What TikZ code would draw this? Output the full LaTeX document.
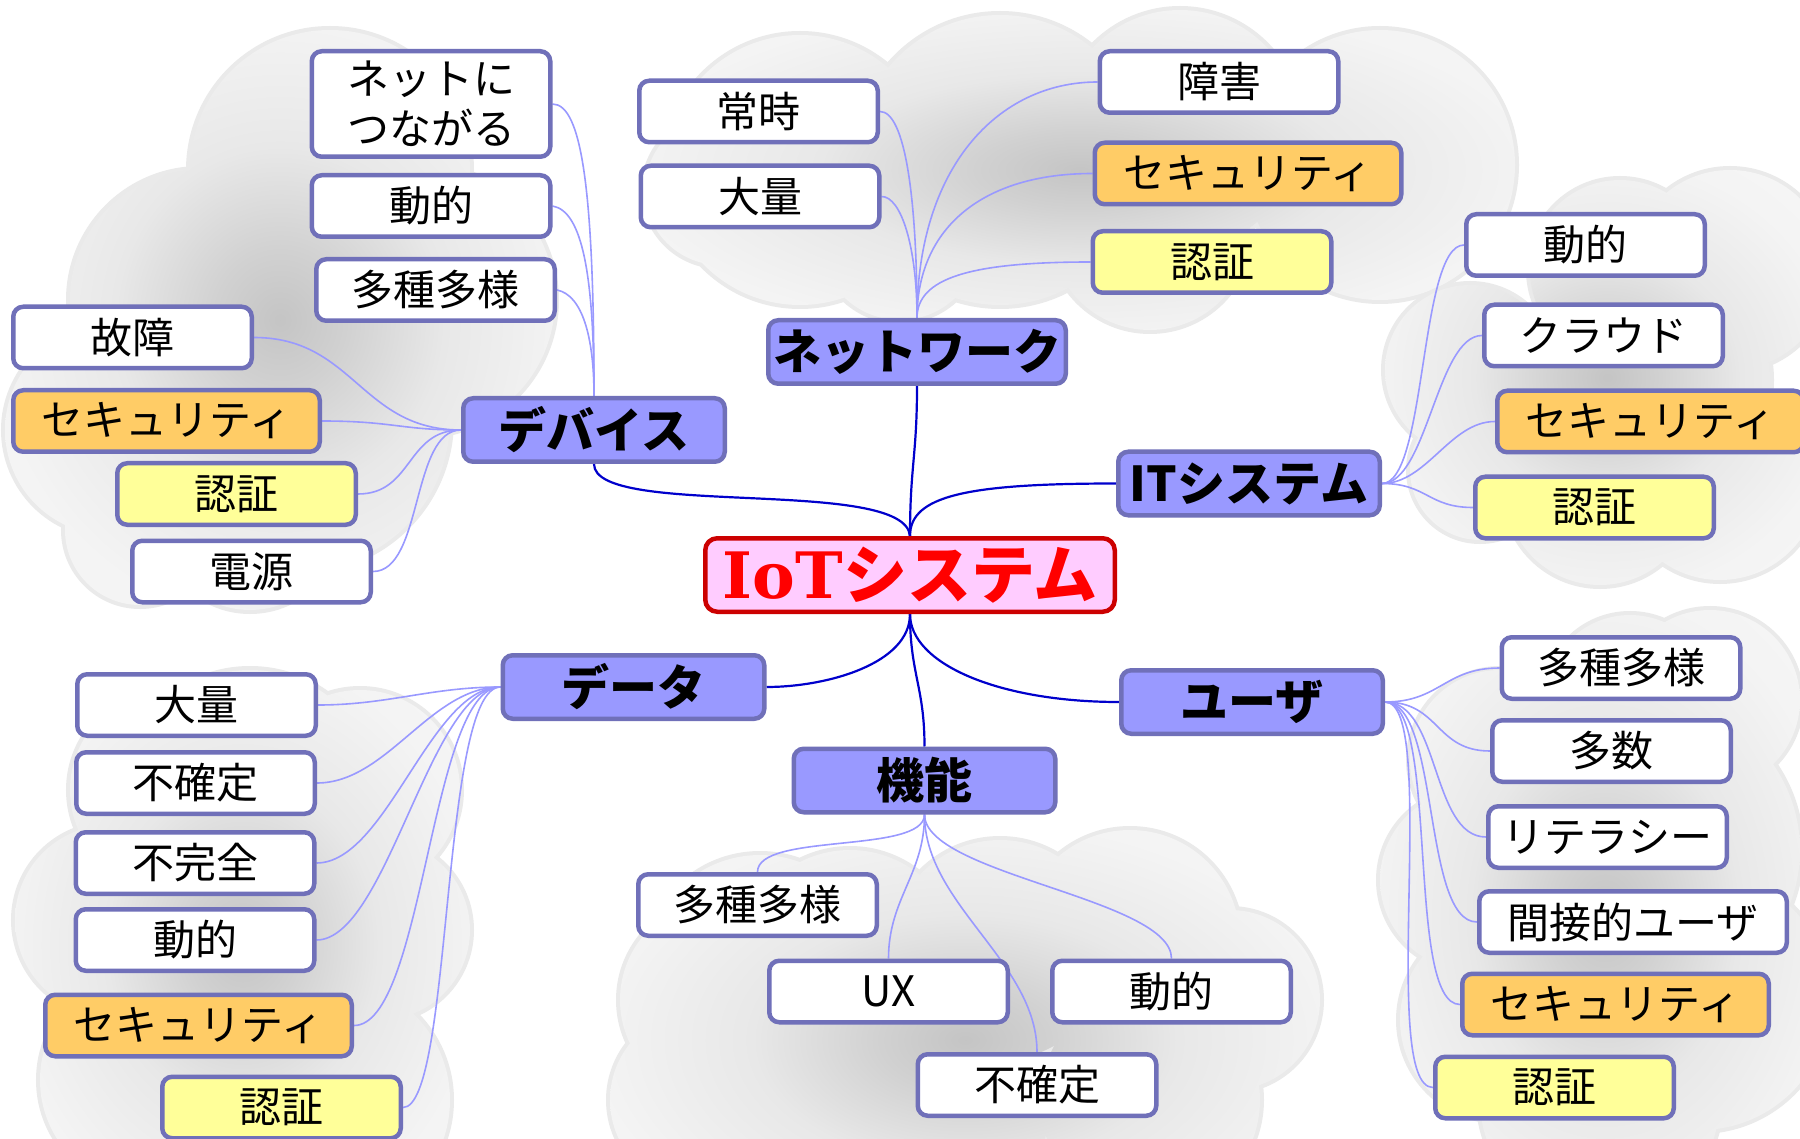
\documentclass[tikz,border=0pt]{standalone}
\usepackage{fontspec}
\newfontfamily\jp{Noto Sans CJK JP}
\newfontfamily\ser{DejaVu Serif}
\definecolor{bord}{RGB}{112,112,185}
\definecolor{brfill}{RGB}{153,153,255}
\definecolor{orangef}{RGB}{255,204,102}
\definecolor{yellowf}{RGB}{255,255,153}
\definecolor{rootfill}{RGB}{255,204,255}
\definecolor{rootbord}{RGB}{204,0,0}
\definecolor{roottext}{RGB}{255,0,0}
\definecolor{leafline}{RGB}{153,153,255}
\definecolor{mainline}{RGB}{0,0,204}
\definecolor{cloudedge}{RGB}{234,234,234}
\definecolor{clA}{gray}{0.77}
\definecolor{clB}{gray}{0.82}
\definecolor{clC}{gray}{0.91}
\definecolor{clD}{gray}{0.955}
\definecolor{clE}{gray}{0.975}
\pgfdeclareradialshading{cloudsh}{\pgfpoint{0bp}{0bp}}{color(0bp)=(clA); color(6bp)=(clB); color(15bp)=(clC); color(26bp)=(clD); color(40bp)=(clE); color(75bp)=(clE)}
\pgfdeclarelayer{clouds}
\pgfdeclarelayer{lines}
\pgfsetlayers{clouds,lines,main}
\newcommand{\mycloud}[1]{%
  \draw[cloudline] \foreach \qx/\qy/\qr in {#1} {(\qx,\qy) circle[radius=\qr pt]};
  \shade[shading=cloudsh] \foreach \qx/\qy/\qr in {#1} {(\qx,\qy) circle[radius=\qr pt]};}
\tikzset{
  leafbox/.style={draw=bord, line width=4.5pt, rounded corners=10pt, inner sep=0pt,
    minimum height=61.5pt, minimum width=238.5pt, fill=white,
    font=\jp\fontsize{42}{50}\selectfont},
  leafo/.style={leafbox, fill=orangef, minimum width=306.5pt},
  leafy/.style={leafbox, fill=yellowf},
  branchbox/.style={leafbox, fill=brfill, minimum height=63.5pt, minimum width=261.5pt,
    font=\jp\bfseries\fontsize{48}{54}\selectfont},
  rootbox/.style={draw=rootbord, line width=4.5pt, rounded corners=12pt, inner sep=0pt,
    fill=rootfill, text=roottext, minimum width=409.5pt, minimum height=73.5pt,
    font=\jp\bfseries\fontsize{64}{70}\selectfont},
  lc/.style={draw=leafline, line width=1.6pt},
  mc/.style={draw=mainline, line width=2.2pt},
  cloudline/.style={draw=cloudedge, line width=8pt},
}
\begin{document}
\begin{tikzpicture}[x=1pt, y=-1pt]
\useasboundingbox (0,0) rectangle (1800,1139);
\begin{pgfonlayer}{clouds}
\fill[white] (0,0) rectangle (1800,1139);
\mycloud{330/170/140, 200/300/130, 110/430/105, 140/530/75, 420/300/135, 300/420/150, 250/520/90}
\mycloud{800/170/135, 720/190/75, 1000/160/145, 1180/130/120, 1380/165/135, 1150/230/100, 900/240/80}
\mycloud{1470/370/85, 1620/270/90, 1730/270/100, 1600/490/95, 1720/480/100, 1480/470/70, 1650/380/120}
\mycloud{360/790/100, 250/800/130, 170/790/100, 110/920/95, 380/930/90, 250/960/150, 150/1080/110, 330/1100/120}
\mycloud{720/1000/100, 760/970/115, 850/960/110, 1000/950/110, 1130/940/110, 1230/1000/90, 900/1100/150, 700/1100/90, 1150/1100/110}
\mycloud{1630/700/85, 1710/700/90, 1500/760/90, 1470/880/90, 1650/850/150, 1700/1000/130, 1500/1020/100, 1600/1100/120}
\end{pgfonlayer}

% root and branches
\node[rootbox] (root) at (910,575) {{\ser\bfseries IoT}システム};
\node[branchbox] (dev) at (594,430) {デバイス};
\node[branchbox, minimum width=297.5pt] (nw) at (917,352) {ネットワーク};
\node[branchbox] (it) at (1249,483.5) {ITシステム};
\node[branchbox] (data) at (633.5,687) {データ};
\node[branchbox] (func) at (924.5,780.5) {機能};
\node[branchbox] (user) at (1252,702) {ユーザ};

% device leaves
\node[leafbox, minimum height=105.5pt, align=center] (d1) at (431,104) {ネットに\\つながる};
\node[leafbox] (d2) at (431,206) {動的};
\node[leafbox] (d3) at (435.5,290) {多種多様};
\node[leafbox] (d4) at (132.5,337.5) {故障};
\node[leafo] (d5) at (166.5,421) {セキュリティ};
\node[leafy] (d6) at (236.5,494) {認証};
\node[leafbox] (d7) at (251.5,571.5) {電源};

% network leaves
\node[leafbox] (n1) at (758.5,111.5) {常時};
\node[leafbox] (n2) at (760,196.5) {大量};
\node[leafbox] (n3) at (1219,82) {障害};
\node[leafo] (n4) at (1248,173.5) {セキュリティ};
\node[leafy] (n5) at (1212,262) {認証};

% IT leaves
\node[leafbox] (i1) at (1585.5,245) {動的};
\node[leafbox] (i2) at (1603.5,335.5) {クラウド};
\node[leafo] (i3) at (1650.5,421.5) {セキュリティ};
\node[leafy] (i4) at (1594.5,507.5) {認証};

% data leaves
\node[leafbox] (a1) at (196.5,705) {大量};
\node[leafbox] (a2) at (195.5,783) {不確定};
\node[leafbox] (a3) at (195,863) {不完全};
\node[leafbox] (a4) at (195,940) {動的};
\node[leafo] (a5) at (198.5,1025.5) {セキュリティ};
\node[leafy] (a6) at (281.5,1107.5) {認証};

% function leaves
\node[leafbox] (f1) at (757.5,905) {多種多様};
\node[leafbox] (f2) at (888.5,991.5) {UX};
\node[leafbox] (f3) at (1171.5,991.5) {動的};
\node[leafbox] (f4) at (1037,1085) {不確定};

% user leaves
\node[leafbox] (u1) at (1621,668) {多種多様};
\node[leafbox] (u2) at (1611.5,751) {多数};
\node[leafbox] (u3) at (1607.5,837) {リテラシー};
\node[leafbox, minimum width=307.5pt] (u4) at (1633,922) {間接的ユーザ};
\node[leafo] (u5) at (1615.5,1004.5) {セキュリティ};
\node[leafy] (u6) at (1554.5,1087.5) {認証};

\begin{pgfonlayer}{lines}
% main connectors
\draw[mc] (nw.south) .. controls +(0,70) and +(0,-70) .. (root.north);
\draw[mc] (dev.south) .. controls +(0,55) and +(-5,-60) .. (root.north);
\draw[mc] (it.west) .. controls +(-150,0) and +(0,-40) .. (root.north);
\draw[mc] (root.south) .. controls +(0,50) and +(60,0) .. (data.east);
\draw[mc] (root.south) .. controls +(0,60) and +(0,-60) .. (func.north);
\draw[mc] (root.south) .. controls +(0,50) and +(-120,0) .. (user.west);

% device
\draw[lc] (d1.east) .. controls +(30,0) and +(0,-200) .. (dev.north);
\draw[lc] (d2.east) .. controls +(30,5) and +(0,-120) .. (dev.north);
\draw[lc] (d3.east) .. controls +(25,5) and +(0,-60) .. (dev.north);
\draw[lc] (d4.east) .. controls +(100,0) and +(-100,0) .. (dev.west);
\draw[lc] (d5.east) .. controls +(70,0) and +(-60,0) .. (dev.west);
\draw[lc] (d6.east) .. controls +(55,0) and +(-55,0) .. (dev.west);
\draw[lc] (d7.east) .. controls +(50,0) and +(-50,0) .. (dev.west);

% network
\draw[lc] (n1.east) .. controls +(25,0) and +(0,-120) .. (nw.north);
\draw[lc] (n2.east) .. controls +(20,0) and +(0,-70) .. (nw.north);
\draw[lc] (nw.north) .. controls +(0,-150) and +(-100,0) .. (n3.west);
\draw[lc] (nw.north) .. controls +(0,-90) and +(-110,0) .. (n4.west);
\draw[lc] (nw.north) .. controls +(0,-40) and +(-120,0) .. (n5.west);

% IT
\foreach \t in {i1,i2,i3,i4}
  \draw[lc] (it.east) .. controls +(45,0) and +(-45,0) .. (\t.west);

% data
\foreach \t in {a1,a2,a3,a4,a5}
  \draw[lc] (\t.east) .. controls +(70,0) and +(-70,0) .. (data.west);
\draw[lc] (a6.east) .. controls +(50,0) and +(-60,0) .. (data.west);

% function
\draw[lc] (func.south) .. controls +(0,40) and +(0,-40) .. (f1.north);
\draw[lc] (func.south) .. controls +(0,60) and +(0,-60) .. (f2.north);
\draw[lc] (func.south) .. controls +(0,60) and +(0,-60) .. (f3.north);
\draw[lc] (func.south) .. controls +(0,90) and +(0,-90) .. (f4.north);

% user
\foreach \t in {u1,u2,u3,u4,u5,u6}
  \draw[lc] (user.east) .. controls +(55,0) and +(-55,0) .. (\t.west);
\end{pgfonlayer}
\end{tikzpicture}
\end{document}
